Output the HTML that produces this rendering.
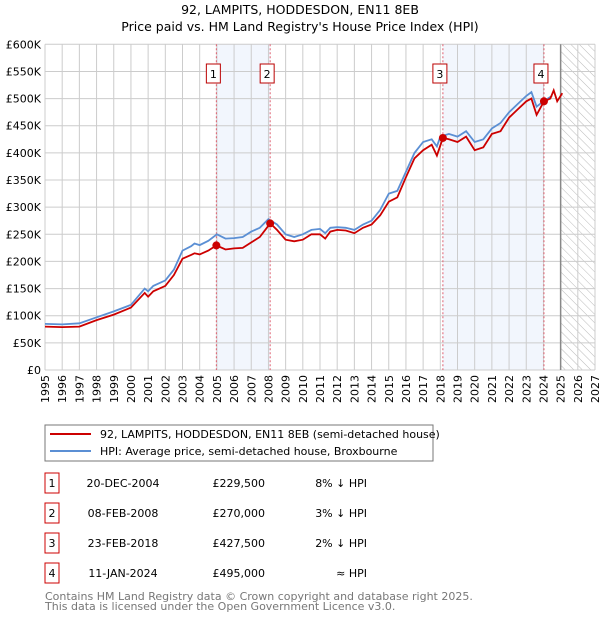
<!DOCTYPE html>
<html><head><meta charset="utf-8"><style>
body{margin:0;background:#fff;font-family:"DejaVu Sans","Liberation Sans",sans-serif;}
svg text{font-family:"DejaVu Sans","Liberation Sans",sans-serif;}
</style></head><body>
<svg id="c" width="600" height="620" xmlns="http://www.w3.org/2000/svg">
<defs><pattern id="hatch" width="6" height="6" patternUnits="userSpaceOnUse" patternTransform="rotate(-45)"><line x1="0" y1="0" x2="0" y2="6" stroke="#bbb" stroke-width="1"/></pattern></defs>
<text x="300" y="14" text-anchor="middle" font-size="12.5">92, LAMPITS, HODDESDON, EN11 8EB</text>
<text x="300" y="31" text-anchor="middle" font-size="12.5">Price paid vs. HM Land Registry's House Price Index (HPI)</text>
<g id="plot"></g>
<rect x="45" y="425" width="388" height="36" fill="#fff" stroke="#777"/>
<line x1="50" y1="434" x2="91" y2="434" stroke="#cc0000" stroke-width="2"/>
<text x="100" y="438" font-size="11">92, LAMPITS, HODDESDON, EN11 8EB (semi-detached house)</text>
<line x1="50" y1="451" x2="91" y2="451" stroke="#5b8fd4" stroke-width="2"/>
<text x="100" y="455" font-size="11">HPI: Average price, semi-detached house, Broxbourne</text>
<g id="table" font-size="11"></g>
<text x="45" y="600" font-size="11" fill="#777">Contains HM Land Registry data © Crown copyright and database right 2025.</text>
<text x="45" y="610" font-size="11" fill="#777">This data is licensed under the Open Government Licence v3.0.</text>
</svg>
<script>
const yearTicks=[1995,1996,1997,1998,1999,2000,2001,2002,2003,2004,2005,2006,2007,2008,2009,2010,2011,2012,2013,2014,2015,2016,2017,2018,2019,2020,2021,2022,2023,2024,2025,2026,2027];
const priceTicks=[0,50,100,150,200,250,300,350,400,450,500,550,600];
const hpiYears=[1995,1996,1997,1998,1999,2000,2000.8,2001,2001.3,2002,2002.5,2003,2003.5,2003.7,2004,2004.5,2005,2005.5,2006,2006.5,2007,2007.5,2008,2008.5,2009,2009.5,2010,2010.5,2011,2011.3,2011.6,2012,2012.5,2013,2013.5,2014,2014.5,2015,2015.5,2016,2016.5,2017,2017.5,2017.8,2018,2018.5,2019,2019.5,2020,2020.5,2021,2021.5,2022,2022.5,2023,2023.3,2023.6,2024,2024.5];
const hpiValues=[85,84,86,97,108,120,150,145,155,165,185,220,228,233,230,238,250,242,243,245,255,262,278,268,250,245,250,258,260,252,262,263,262,258,268,275,295,325,330,365,400,420,425,412,430,435,430,440,420,425,445,455,475,490,505,512,485,495,505];
const propYears=[1995,1996,1997,1998,1999,2000,2000.8,2001,2001.3,2002,2002.5,2003,2003.5,2003.7,2004,2004.5,2004.97,2005.5,2006,2006.5,2007,2007.5,2008.1,2008.5,2009,2009.5,2010,2010.5,2011,2011.3,2011.6,2012,2012.5,2013,2013.5,2014,2014.5,2015,2015.5,2016,2016.5,2017,2017.5,2017.8,2018.15,2018.5,2019,2019.5,2020,2020.5,2021,2021.5,2022,2022.5,2023,2023.3,2023.6,2024.03,2024.4,2024.6,2024.8,2025.1];
const propValues=[80,79,80,92,102,115,142,135,145,155,175,205,212,215,213,220,229.5,222,224,225,235,245,270,258,240,237,240,250,250,242,255,258,257,252,262,268,285,310,318,355,390,405,415,395,427.5,425,420,430,405,410,435,440,465,480,495,500,470,495,500,515,495,510];
const saleYears=[2004.97,2008.1,2018.15,2024.03];
const saleValues=[229.5,270,427.5,495];
const saleLabels=["1","2","3","4"];
const saleDates=["20-DEC-2004","08-FEB-2008","23-FEB-2018","11-JAN-2024"];
const salePrices=["£229,500","£270,000","£427,500","£495,000"];
const saleRel=["8% ↓ HPI","3% ↓ HPI","2% ↓ HPI","≈ HPI"];

const X0=45,X1=595,Y0=370,Y1=44.3;
const xs=y=>X0+(y-1995)/(2027-1995)*(X1-X0);
const ys=v=>Y0-v/600*(Y0-Y1);
const NS="http://www.w3.org/2000/svg";
const plot=document.getElementById('plot');
function mk(tag,attrs,parent){const e=document.createElementNS(NS,tag);for(const k in attrs)e.setAttribute(k,attrs[k]);(parent||plot).appendChild(e);return e;}

let e;
e=mk('rect',{x:xs(saleYears[0]),y:Y1,width:xs(saleYears[1])-xs(saleYears[0]),height:Y0-Y1,fill:'#f2f6fd'});


e=mk('rect',{x:xs(saleYears[2]),y:Y1,width:xs(saleYears[3])-xs(saleYears[2]),height:Y0-Y1,fill:'#f2f6fd'});


e=mk('rect',{x:xs(2025),y:Y1,width:X1-xs(2025),height:Y0-Y1,fill:'url(#hatch)'});



yearTicks.forEach(t=>{
  const g=mk('line',{x1:xs(t),x2:xs(t),y1:Y1,y2:Y0,stroke:'#ccc','stroke-width':1});
  
  
  const tx=mk('text',{x:0,y:0,'font-size':11,'text-anchor':'end',transform:`translate(${xs(t)+4},${Y0+5}) rotate(-90)`});
  tx.textContent=t;
  
  
});
priceTicks.forEach(t=>{
  const g=mk('line',{x1:X0,x2:X1,y1:ys(t),y2:ys(t),stroke:'#ccc','stroke-width':1});
  
  
  const tx=mk('text',{x:X0-4,y:ys(t)+4,'font-size':11,'text-anchor':'end'});
  tx.textContent=t===0?'£0':'£'+t+'K';
  
  
});
e=mk('line',{x1:xs(2025),x2:xs(2025),y1:Y1,y2:Y0,stroke:'#888','stroke-width':1.5});



saleYears.forEach((y,i)=>{
  const l=mk('line',{x1:xs(y),x2:xs(y),y1:Y1,y2:Y0,stroke:'#e06070','stroke-width':1,'stroke-dasharray':'2,2'});
  
  
  const r=mk('rect',{x:xs(y)-10,y:64,width:14,height:19,fill:'#fff',stroke:'#b00'});
  
  
  const t=mk('text',{x:xs(y)-3,y:78,'font-size':11,'text-anchor':'middle'});
  t.textContent=saleLabels[i];
  
  
});

const pathOf=(xa,va)=>xa.map((y,i)=>(i?'L':'M')+xs(y).toFixed(1)+','+ys(va[i]).toFixed(1)).join('');
e=mk('path',{d:pathOf(hpiYears,hpiValues),fill:'none',stroke:'#5b8fd4','stroke-width':1.8});


e=mk('path',{d:pathOf(propYears,propValues),fill:'none',stroke:'#cc0000','stroke-width':1.8});


saleYears.forEach((y,i)=>{
  const c=mk('circle',{cx:xs(y),cy:ys(saleValues[i]),r:4,fill:'#cc0000'});
  
  
});

const tb=document.getElementById('table');
saleLabels.forEach((s,i)=>{
  const yy=483+i*30;
  const r=mk('rect',{x:45,y:yy-10,width:14,height:20,fill:'#fff',stroke:'#cc0000'},tb);
  
  
  const cells=[[52,'middle',s],[123,'middle',saleDates[i]],[265,'end',salePrices[i]],[367,'end',saleRel[i]]];
  cells.forEach(c=>{
    const t=mk('text',{x:c[0],y:yy+4,'text-anchor':c[1]},tb);
    t.textContent=c[2];
    
    
  });
});
</script>
</body></html>
